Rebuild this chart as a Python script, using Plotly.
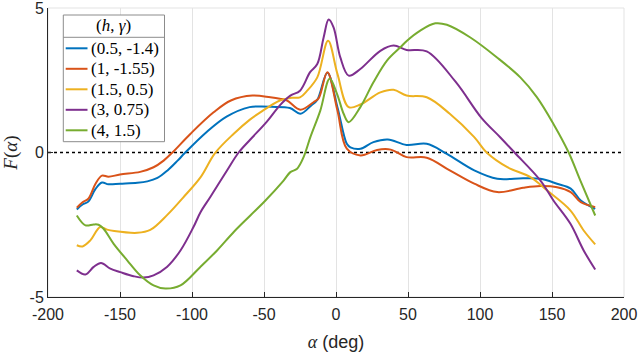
import plotly.graph_objects as go

# F(alpha) curves
alpha_blue = [-180, -176, -172, -167, -162.5, -158, -150, -138, -131, -124, -117, -110, -105, -90, -76,
              -60, -52, -45, -32, -24.8, -17, -13, -6, 1, 7.5, 10, 17, 26, 36, 49, 63,
              77, 96, 112, 130, 142, 153.5, 163, 170, 180]
f_blue = [-1.97, -1.8, -1.7, -1.26, -1.04, -1.1, -1.08, -1.05, -1.0, -0.88, -0.62, -0.28, -0.02, 0.70, 1.24,
          1.57, 1.59, 1.58, 1.54, 1.34, 1.64, 1.82, 2.76, 1.57, 0.30, 0.18, 0.13, 0.36, 0.45, 0.26, 0.30,
          -0.05, -0.62, -0.91, -0.89, -0.91, -1.08, -1.25, -1.66, -1.95]

alpha_red = [-180, -176, -172, -167, -162.5, -158, -150, -136, -126.7, -119.7, -114, -101, -85,
             -73, -58, -45.6, -39, -34, -24.8, -15.6, -12, -6, 1, 7.5, 17, 28.5, 38, 49, 63,
             79, 96, 112, 130, 142, 153.5, 163, 170, 180]
f_red = [-1.91, -1.72, -1.6, -1.08, -0.8, -0.84, -0.76, -0.67, -0.51, -0.28, -0.02, 0.65, 1.39,
         1.80, 1.97, 1.91, 1.86, 1.80, 1.48, 1.74, 1.88, 2.78, 1.45, 0.13, -0.10, 0.09, 0.10, -0.16, -0.18,
         -0.62, -1.08, -1.37, -1.22, -1.16, -1.20, -1.37, -1.72, -1.89]

alpha_yellow = [-180, -176, -170.6, -163.7, -159, -154, -138, -129, -117, -106, -94, -84, -71,
                -60, -52.6, -39, -32, -25, -20, -13, -5.5, 1, 8.8, 16.9, 30.8, 40, 49, 63,
                79, 96, 105, 119, 135, 146.5, 162.7, 172, 180]
f_yellow = [-3.21, -3.25, -3.04, -2.58, -2.67, -2.72, -2.78, -2.68, -2.15, -1.55, -0.85, -0.02, 0.65,
            1.13, 1.39, 1.80, 1.89, 1.91, 2.14, 2.60, 3.87, 2.72, 1.57, 1.66, 2.08, 2.17, 1.97, 1.91,
            1.34, 0.53, -0.02, -0.51, -0.85, -1.31, -2.0, -2.70, -3.18]

alpha_purple = [-180, -174, -168.3, -163.2, -156.7, -149.8, -140.6, -133.6, -126.7, -117.4, -108, -99,
                -94, -87.3, -75.7, -67.6, -59.5, -48, -38.7, -31.7, -25, -18, -13, -8.6, -5.1, -1.7,
                3, 8.8, 16.9, 30.8, 40, 49, 63, 83, 101, 114, 124, 142, 151, 162.7, 172, 180]
f_purple = [-4.08, -4.22, -3.96, -3.82, -4.02, -4.14, -4.28, -4.33, -4.25, -3.96, -3.39, -2.58,
            -2.06, -1.54, -0.62, 0.0, 0.45, 1.07, 1.65, 1.97, 2.14, 2.78, 3.06, 3.98, 4.60, 4.33,
            3.29, 2.66, 2.89, 3.52, 3.70, 3.55, 3.50, 2.45, 1.2, 0.53, 0.0, -0.97, -1.66, -2.46, -3.39, -4.05]

alpha_green = [-180, -174, -168.3, -164.9, -161.4, -154.4, -145, -136, -126.7, -118.5, -108, -94.2,
               -82.6, -71, -59.5, -49, -36.4, -31.7, -27, -22.5, -17.8, -10.9, -4.4, 0.7, 5.3, 8.8,
               16.9, 26, 35.4, 44.7, 49.3, 58.5, 69, 77, 93.3, 111.8, 128, 139.6, 151, 161.5,
               169.7, 180]
f_green = [-2.18, -2.52, -2.49, -2.50, -2.64, -3.16, -3.73, -4.25, -4.60, -4.71, -4.60, -3.96,
           -3.39, -2.75, -2.18, -1.66, -0.97, -0.68, -0.56, -0.16, 0.53, 1.45, 2.55, 2.03, 1.34, 1.05,
           1.57, 2.43, 3.18, 3.64, 3.87, 4.22, 4.47, 4.42, 3.98, 3.29, 2.60, 1.91, 0.99, 0.01,
           -0.97, -2.18]

series_names = ["(0.5, -1.4)", "(1, -1.55)", "(1.5, 0.5)", "(3, 0.75)", "(4, 1.5)"]
colors = ["#0072BD", "#D95319", "#EDB120", "#7E2F8E", "#77AC30"]
legend_title = "(<i>h</i>, <i>γ</i>)"

x_ticks = [-200, -150, -100, -50, 0, 50, 100, 150, 200]
x_ticktext = ["-200", "-150", "-100", "-50", "0", "50", "100", "150", "200"]
y_ticks = [-5, 0, 5]
y_ticktext = ["-5", "0", "5"]

curves = [
    (alpha_blue, f_blue),
    (alpha_red, f_red),
    (alpha_yellow, f_yellow),
    (alpha_purple, f_purple),
    (alpha_green, f_green),
]

W, H = 640, 353
ML, MR, MT, MB = 48, 16, 8, 56
PW, PH = W - ML - MR, H - MT - MB


def fx(px):
    # page pixel -> paper x
    return (px - ML) / PW


def fy(py):
    # page pixel -> paper y
    return (H - MB - py) / PH


fig = go.Figure()

# dotted zero reference line
fig.add_trace(go.Scatter(
    x=[-200, 200], y=[0, 0], mode="lines",
    line=dict(color="black", width=1.5, dash="dot"),
    showlegend=False, hoverinfo="skip",
))

for (xs, ys), name, col in zip(curves, series_names, colors):
    fig.add_trace(go.Scatter(
        x=xs, y=ys, mode="lines", name=name, showlegend=False,
        line=dict(color=col, width=2, shape="spline", smoothing=1.0),
    ))

tick_font = dict(family="Liberation Sans", size=16, color="#262626")
serif = "Liberation Serif"

fig.update_xaxes(
    range=[-200, 200], tickvals=x_ticks, ticktext=x_ticktext,
    showgrid=True, gridcolor="#e3e3e3", gridwidth=1, zeroline=False,
    showline=True, linecolor="#262626", linewidth=1,
    ticks="inside", ticklen=5, tickcolor="#262626",
    tickfont=tick_font, automargin=False, ticklabelstandoff=3,
    title=dict(
        text="<i><span style='font-family:Liberation Serif'>α</span></i> (deg)",
        font=dict(family="Liberation Sans", size=18, color="#262626"),
        standoff=13,
    ),
)
fig.update_yaxes(
    range=[-5.001, 5.001], tickvals=y_ticks, ticktext=y_ticktext,
    showgrid=False, zeroline=False,
    showline=True, linecolor="#262626", linewidth=1,
    ticks="inside", ticklen=5, tickcolor="#262626",
    tickfont=tick_font, automargin=False, ticklabeloverflow="allow",
    title=dict(text="<i>F</i>(<i>α</i>)", font=dict(family=serif, size=19, color="#262626"),
               standoff=6),
)

# hand-drawn legend box in the top-left corner
box_l, box_r, box_t, box_b = 63.3, 164.5, 15, 141.7
sep_py = 37.3
row_py = [48.3, 68.8, 89.3, 109.8, 130.3]

shapes = [
    dict(type="rect", xref="paper", yref="paper", x0=0, x1=1, y0=0, y1=1,
         line=dict(color="#e3e3e3", width=1), layer="below"),
    dict(type="rect", xref="paper", yref="paper",
         x0=fx(box_l), x1=fx(box_r), y0=fy(box_b), y1=fy(box_t),
         line=dict(color="#8c8c8c", width=1), fillcolor="white", layer="above"),
    dict(type="line", xref="paper", yref="paper",
         x0=fx(box_l), x1=fx(box_r), y0=fy(sep_py), y1=fy(sep_py),
         line=dict(color="#8c8c8c", width=1), layer="above"),
]
annotations = [
    dict(text=legend_title, xref="paper", yref="paper",
         x=fx((box_l + box_r) / 2), y=fy(26), xanchor="center", yanchor="middle",
         showarrow=False, font=dict(family=serif, size=17, color="#000000")),
]
for name, col, py in zip(series_names, colors, row_py):
    shapes.append(dict(type="line", xref="paper", yref="paper",
                       x0=fx(65.7), x1=fx(87.5), y0=fy(py), y1=fy(py),
                       line=dict(color=col, width=2), layer="above"))
    annotations.append(dict(text=name, xref="paper", yref="paper",
                            x=fx(88.5), y=fy(py), xanchor="left", yanchor="middle",
                            showarrow=False, font=dict(family=serif, size=17, color="#000000")))

fig.update_layout(
    width=W, height=H,
    margin=dict(l=ML, r=MR, t=MT, b=MB),
    paper_bgcolor="white", plot_bgcolor="white",
    showlegend=False,
    shapes=shapes,
    annotations=annotations,
)

fig.write_html("out.html", config={"displayModeBar": False},
               post_script="document.body.style.margin='0';")
